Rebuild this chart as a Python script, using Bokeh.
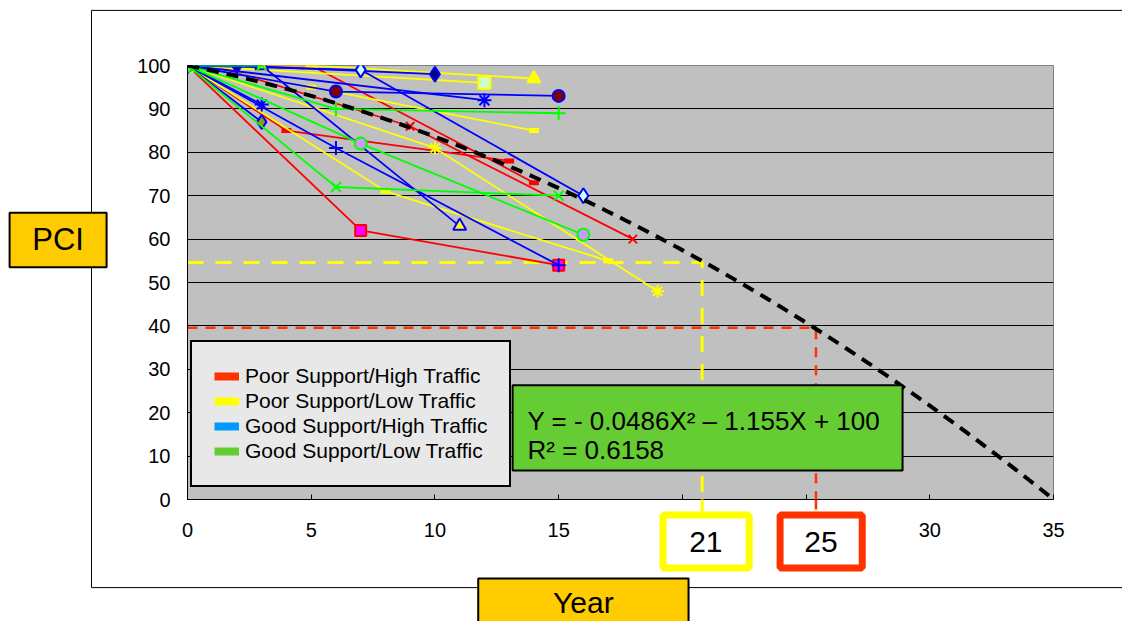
import numpy as np
from bokeh.plotting import figure
from bokeh.models import (Range1d, FixedTicker, Label, BoxAnnotation, Legend, LegendItem)
from bokeh.core.properties import value
from bokeh.embed import file_html
from bokeh.resources import INLINE

FONT = "Liberation Sans"

# ---------------- data ----------------
x_ticks = [0, 5, 10, 15, 20, 25, 30, 35]
y_ticks = [0, 10, 20, 30, 40, 50, 60, 70, 80, 90, 100]

# Poor Support / High Traffic
red_years = [[0, 7, 15], [0, 1, 9, 18], [0, 4, 13], [0, 5, 14]]
red_pci = [[100, 62, 54], [100, 100, 86, 60], [100, 85, 78], [100, 100, 73]]
# Poor Support / Low Traffic
yellow_years = [[0, 5, 14], [0, 12], [0, 5, 14], [0, 10, 19], [0, 8, 17], [0, 1]]
yellow_pci = [[100, 100, 97], [100, 96], [100, 95, 85], [100, 81, 48], [100, 71, 55], [100, 100]]
# Good Support / High Traffic
blue_years = [[0, 2, 10], [0, 7, 16], [0, 6, 15], [0, 3], [0, 12], [0, 3, 11], [0, 6, 15], [0, 3]]
blue_pci = [[100, 100, 98], [100, 99, 70], [100, 94, 93], [100, 91], [100, 92], [100, 100, 63], [100, 81, 54], [100, 87]]
# Good Support / Low Traffic
green_years = [[0, 6, 15], [0, 7, 16], [0, 6, 15], [0, 3]]
green_pci = [[100, 90, 89], [100, 82, 61], [100, 72, 70], [100, 100]]

legend_labels = ["Poor Support/High Traffic", "Poor Support/Low Traffic",
                 "Good Support/High Traffic", "Good Support/Low Traffic"]

# trendline Y = a X^2 + b X + c
fit_a, fit_b, fit_c = -0.0486, -1.155, 100.0
fit_x_max = 35

# read-off guides
guide_years = [20.8, 25.4]
guide_pci = [54.6, 39.6]
guide_labels = ["21", "25"]

# ---------------- styles ----------------
red_styles = [("square", "#FF00FF", 11), ("x", None, 12), ("dash", None, 10), ("dash", None, 10)]
yellow_styles = [("triangle", "#FFFF00", 13), ("square", "#CCFFCC", 12), ("dash", None, 10),
                 ("asterisk", None, 13), ("dash", None, 10), ("circle_cross", "#FFFF66", 12)]
blue_styles = [("diamond", "#000080", 15), ("diamond", "#CCFFFF", 15), ("circle", "#800000", 12),
               ("asterisk", None, 14), ("asterisk", None, 14), ("triangle", "#FFFF00", 13),
               ("cross", None, 14), ("diamond", "#999900", 14)]
green_styles = [("cross", None, 14), ("circle", "#CC99FF", 12), ("x", None, 14), ("x", None, 14)]

p = figure(width=1122, height=621, x_range=Range1d(0, 35), y_range=Range1d(0, 100),
           output_backend="svg", toolbar_location=None,
           min_border_left=187, min_border_right=69, min_border_top=65, min_border_bottom=122,
           background_fill_color="#C0C0C0", border_fill_color="white",
           outline_line_color="#808080", outline_line_width=1)

p.xaxis.ticker = FixedTicker(ticks=x_ticks)
p.yaxis.ticker = FixedTicker(ticks=y_ticks)
for ax in (p.xaxis[0], p.yaxis[0]):
    ax.major_label_text_font = FONT
    ax.major_label_text_font_size = "20px"
    ax.major_label_text_color = "black"
    ax.axis_line_color = "black"
    ax.major_tick_in = 5
    ax.major_tick_out = 0
    ax.major_tick_line_color = "black"
    ax.minor_tick_line_color = None
p.xaxis.major_label_standoff = 23
p.yaxis.major_label_standoff = 17
p.xgrid.visible = False
p.ygrid.grid_line_color = "black"
p.ygrid.grid_line_width = 1

# guide L-lines (dashed) under everything
guide_colors = ["#FFFF00", "#FF3300"]
guide_widths = [3, 2.5]
guide_dash = ["16 12", "10 8"]
box_top = -2.8
for gx, gy, c, w, d in zip(guide_years, guide_pci, guide_colors, guide_widths, guide_dash):
    p.line([0, gx, gx], [gy, gy, box_top], line_color=c, line_width=w, line_dash=d)

def draw_group(years, pcis, styles, color):
    for xs, ys, (mk, fill, sz) in zip(years, pcis, styles):
        p.line(xs, ys, line_color=color, line_width=1.8)
        lw = 5 if mk == "dash" else 2
        p.scatter(xs, ys, marker=mk, size=sz, line_color=color,
                  fill_color=fill if fill else color, line_width=lw)

draw_group(red_years, red_pci, red_styles, "#FF0000")
draw_group(yellow_years, yellow_pci, yellow_styles, "#FFFF00")
draw_group(blue_years, blue_pci, blue_styles, "#0000FF")
draw_group(green_years, green_pci, green_styles, "#00FF00")

# trendline
fx = np.linspace(0, fit_x_max, 141)
fy = fit_a * fx ** 2 + fit_b * fx + fit_c
p.line(fx, fy, line_color="black", line_width=4, line_dash="12 8")

# equation box
p.add_layout(BoxAnnotation(left=13.14, right=28.9, bottom=6.7, top=26.3,
                           fill_color="#66CC33", fill_alpha=1,
                           line_color="black", line_alpha=1, line_width=2))
p.add_layout(Label(x=13.74, y=18.2, text="Y = - 0.0486X\u00b2 \u2013 1.155X + 100",
                   text_font=FONT, text_font_size="26px", text_baseline="alphabetic",
                   text_align="left", text_color="black"))
p.add_layout(Label(x=13.74, y=11.3, text="R\u00b2 = 0.6158",
                   text_font=FONT, text_font_size="26px", text_baseline="alphabetic",
                   text_align="left", text_color="black"))

# ---- elements outside the plot area (overlay level) ----
OV = "overlay"
# outer chart frame
p.quad(left=[-3.88], right=[40], bottom=[-20.3], top=[112.7], fill_color=None,
       line_color="black", line_width=1, level=OV)
# guide extensions below the plot area
for gx, c, w, d in zip(guide_years, guide_colors, guide_widths, guide_dash):
    p.line([gx, gx], [0, box_top], line_color=c, line_width=w, line_dash=d, level=OV)
# PCI box
p.quad(left=[-7.19], right=[-3.27], bottom=[53.5], top=[66.1], fill_color="#FFCC00",
       line_color="black", line_width=2, level=OV)
p.text(x=[-5.23], y=[59.8], text=["PCI"], text_align="center", text_baseline="middle",
       text_font=value(FONT), text_font_size="31px", text_color="black", level=OV)
# Year box
p.quad(left=[11.75], right=[20.25], bottom=[-32], top=[-18.2], fill_color="#FFCC00",
       line_color="black", line_width=2, level=OV)
p.text(x=[16.0], y=[-23.7], text=["Year"], text_align="center", text_baseline="middle",
       text_font=value(FONT), text_font_size="30px", text_color="black", level=OV)
# value boxes
box_left = [19.22, 23.95]
box_right = [22.70, 27.27]
box_x = [20.95, 25.6]
p.quad(left=box_left, right=box_right, bottom=[-15.78, -15.78], top=[-3.57, -3.57],
       fill_color="white", line_color=guide_colors, line_width=7, level=OV)
p.text(x=box_x, y=[-9.7, -9.7], text=guide_labels, text_align="center", text_baseline="middle",
       text_font=value(FONT), text_font_size="30px", text_color="black", level=OV)

# legend
legend_colors = ["#FF3300", "#FFFF00", "#0099FF", "#66CC33"]
dummies = [p.line(x=[-50, -49], y=[-50, -50], line_color=c, line_width=8) for c in legend_colors]
legend = Legend(items=[LegendItem(label=l, renderers=[r]) for l, r in zip(legend_labels, dummies)],
                location=(3, 12), margin=0, padding=22, spacing=1,
                label_text_font=FONT, label_text_font_size="21px", label_text_color="black",
                label_height=24, glyph_height=20, glyph_width=25, label_standoff=6,
                border_line_color="black", border_line_width=2, border_line_alpha=1,
                background_fill_color="#E8E8E8", background_fill_alpha=1)
p.add_layout(legend)

open("out.html", "w").write(file_html(p, INLINE))
